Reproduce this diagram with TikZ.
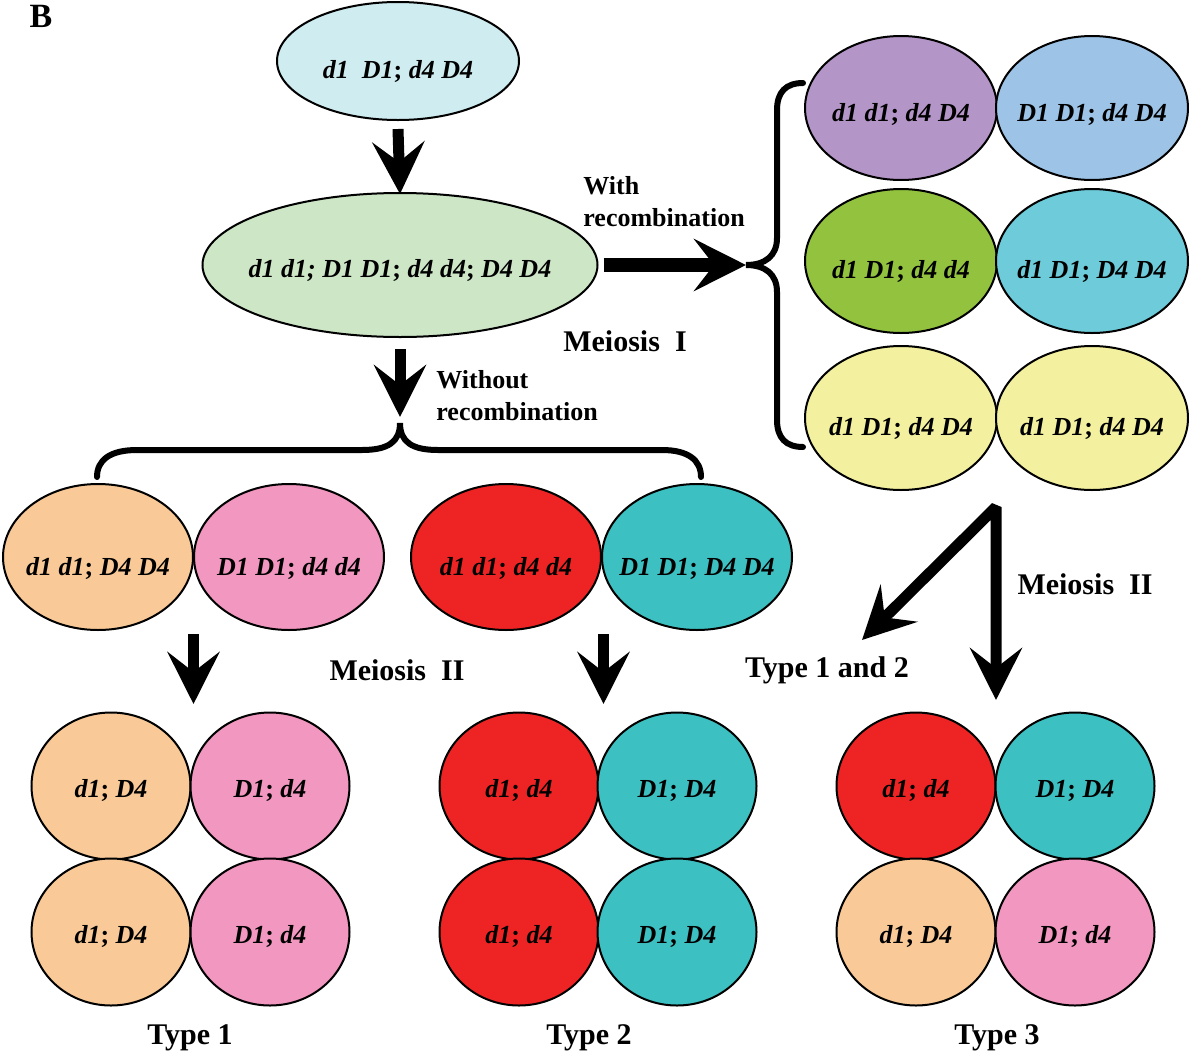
\documentclass[tikz,border=0pt]{standalone}
\usepackage{fontspec}
\setmainfont{Liberation Serif}
\usetikzlibrary{arrows.meta,shapes.geometric,calc}
\definecolor{cTop}{HTML}{CFECF0}
\definecolor{cBig}{HTML}{CDE6C6}
\definecolor{cPurple}{HTML}{B495C7}
\definecolor{cBlue}{HTML}{9DC3E6}
\definecolor{cGreen}{HTML}{92C23E}
\definecolor{cCyan}{HTML}{6DCBDA}
\definecolor{cYellow}{HTML}{F3F19F}
\definecolor{cOrange}{HTML}{F9CA98}
\definecolor{cPink}{HTML}{F197C0}
\definecolor{cRed}{HTML}{EE2424}
\definecolor{cTeal}{HTML}{3DC0C1}
\newcommand{\gsemi}{\textup{;}}
\newcommand{\gtxt}[2]{\makebox[0pt]{\raisebox{#1}[0pt][0pt]{#2}}}
\begin{document}
\begin{tikzpicture}[x=0.5pt,y=-0.5pt,
 cell/.style={ellipse, draw=black, line width=1pt, inner sep=0pt, font=\bfseries\itshape\fontsize{13}{15}\selectfont},
 rcell/.style={cell, minimum width=96pt, minimum height=72pt},
 mcell/.style={cell, minimum width=95pt, minimum height=73pt},
 bcell/.style={cell, minimum width=79.5pt, minimum height=73.5pt},
 bigarrow/.style={line width=5.5pt, -{Stealth[length=26pt,width=26pt,inset=10pt]}},
 bracepath/.style={line width=3pt, line cap=round},
 lab/.style={font=\bfseries\fontsize{13}{16}\selectfont, align=left, anchor=west, inner sep=0pt},
 head/.style={font=\bfseries\fontsize{15}{18}\selectfont, inner sep=0pt},
]
\useasboundingbox (0,0) rectangle (1189,1055);

\node[font=\bfseries\fontsize{17}{20}\selectfont, anchor=base, inner sep=0pt] (B) at (41,27) {B};

% top and meiosis I cells
\node[cell, fill=cTop, minimum width=121pt, minimum height=59pt] (top) at (398,61) {\gtxt{-8.6pt}{d1\ \ D1\gsemi{} d4 D4}};
\node[cell, fill=cBig, minimum width=197.5pt, minimum height=72pt] (big) at (400,265) {\gtxt{-6pt}{d1 d1; D1 D1\gsemi{} d4 d4\gsemi{} D4 D4}};

% with recombination
\node[rcell, fill=cPurple] (r1) at (901,108) {\gtxt{-6.5pt}{d1 d1\gsemi{} d4 D4}};
\node[rcell, fill=cBlue]   (r2) at (1092,108) {\gtxt{-6.5pt}{D1 D1\gsemi{} d4 D4}};
\node[rcell, fill=cGreen]  (r3) at (901,261) {\gtxt{-8.5pt}{d1 D1\gsemi{} d4 d4}};
\node[rcell, fill=cCyan]   (r4) at (1092,261) {\gtxt{-8.5pt}{d1 D1\gsemi{} D4 D4}};
\node[rcell, fill=cYellow] (r5) at (901,418) {\gtxt{-8.5pt}{d1 D1\gsemi{} d4 D4}};
\node[rcell, fill=cYellow] (r6) at (1092,418) {\gtxt{-8.5pt}{d1 D1\gsemi{} d4 D4}};

% without recombination
\node[mcell, fill=cOrange] (m1) at (98,557) {\gtxt{-9pt}{d1 d1\gsemi{} D4 D4}};
\node[mcell, fill=cPink]   (m2) at (289,557) {\gtxt{-9pt}{D1 D1\gsemi{} d4 d4}};
\node[mcell, fill=cRed]    (m3) at (506,557) {\gtxt{-9pt}{d1 d1\gsemi{} d4 d4}};
\node[mcell, fill=cTeal]   (m4) at (697,557) {\gtxt{-9pt}{D1 D1\gsemi{} D4 D4}};

% type 1
\node[bcell, fill=cOrange] (b1) at (111,786) {\gtxt{-5.5pt}{d1\gsemi{} D4}};
\node[bcell, fill=cPink]   (b2) at (270,786) {\gtxt{-5.5pt}{D1\gsemi{} d4}};
\node[bcell, fill=cOrange] (b3) at (111,932) {\gtxt{-5.5pt}{d1\gsemi{} D4}};
\node[bcell, fill=cPink]   (b4) at (270,932) {\gtxt{-5.5pt}{D1\gsemi{} d4}};
% type 2
\node[bcell, fill=cRed]  (b5) at (519,786) {\gtxt{-5.5pt}{d1\gsemi{} d4}};
\node[bcell, fill=cTeal] (b6) at (677,786) {\gtxt{-5.5pt}{D1\gsemi{} D4}};
\node[bcell, fill=cRed]  (b7) at (519,932) {\gtxt{-5.5pt}{d1\gsemi{} d4}};
\node[bcell, fill=cTeal] (b8) at (677,932) {\gtxt{-5.5pt}{D1\gsemi{} D4}};
% type 3
\node[bcell, fill=cRed]    (b9)  at (916,786) {\gtxt{-5.5pt}{d1\gsemi{} d4}};
\node[bcell, fill=cTeal]   (b10) at (1075,786) {\gtxt{-5.5pt}{D1\gsemi{} D4}};
\node[bcell, fill=cOrange] (b11) at (916,932) {\gtxt{-5.5pt}{d1\gsemi{} D4}};
\node[bcell, fill=cPink]   (b12) at (1075,932) {\gtxt{-5.5pt}{D1\gsemi{} d4}};

% texts
\node[lab] (with) at (583,202) {With\\recombination};
\node[lab] (without) at (436,396) {Without\\recombination};
\node[head] (mI) at (625,341) {Meiosis\ \ I};
\node[head] (mII) at (397,670) {Meiosis\ \ II};
\node[head] (mIIr) at (1085,584) {Meiosis\ \ II};
\node[head] (t12) at (827,670) {Type 1 and 2};
\node[head] (t1) at (190,1038) {Type 1};
\node[head] (t2) at (589,1038) {Type 2};
\node[head] (t3) at (997,1038) {Type 3};

% coordinates
\coordinate (rtip) at (746,265);
\coordinate (dtip) at (400,417);
\coordinate (ltip) at (400,423);
\coordinate (apex) at (996,507);
\coordinate (downtip) at (996,700);
\coordinate (diagtip) at (862,640);

% arrows
\draw[bigarrow] ([yshift=-4pt]top.south) -- ([yshift=-1pt]big.north);
\draw[bigarrow, line width=7pt] ([xshift=2.5pt]big.east) -- (rtip);
\draw[bigarrow] ([yshift=-5.5pt]big.south) -- (dtip);
\draw[bigarrow] ($(m1.south)!0.5!(m2.south)+(0,3)$) -- ++(0,70);
\draw[bigarrow] ($(m3.south)!0.5!(m4.south)+(2,3)$) -- ++(0,70);
\draw[line width=5.5pt, line join=bevel, {Stealth[length=26pt,width=26pt,inset=10pt]}-{Stealth[length=26pt,width=26pt,inset=10pt]}] (diagtip) -- (apex) -- (downtip);

% braces
\draw[bracepath] (803,83) .. controls (786,83) and (777,92) .. (777,110) -- (777,238)
  .. controls (777,256) and (765,265) .. (rtip)
  .. controls (765,265) and (777,274) .. (777,292) -- (777,420)
  .. controls (777,438) and (786,447) .. (803,447);
\draw[bracepath] (97,477) .. controls (97,460) and (110,450) .. (137,450) -- (362,450)
  .. controls (388,450) and (400,442) .. (ltip)
  .. controls (400,442) and (412,450) .. (438,450) -- (662,450)
  .. controls (688,450) and (701,460) .. (701,477);
\end{tikzpicture}
\end{document}
